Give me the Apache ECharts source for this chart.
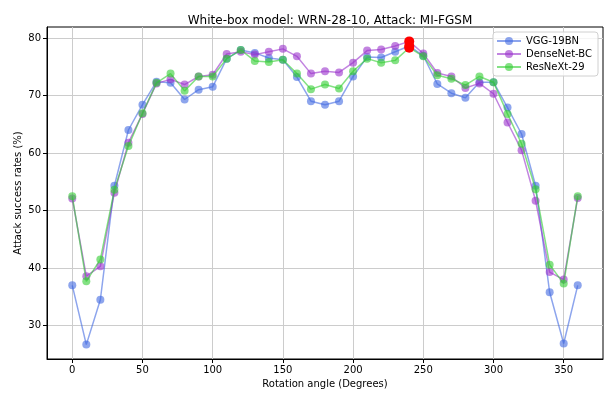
<!DOCTYPE html>
<html>
<head>
<meta charset="utf-8">
<script src="https://cdn.jsdelivr.net/npm/echarts@6/dist/echarts.min.js"></script>
<style>
  html, body { margin: 0; padding: 0; background: #fff; }
  #chart { width: 609px; height: 394px; }
</style>
</head>
<body>
<div id="chart"></div>
<script>
const angles = [0, 10, 20, 30, 40, 50, 60, 70, 80, 90, 100, 110, 120, 130, 140, 150, 160, 170, 180,
  190, 200, 210, 220, 230, 240, 250, 260, 270, 280, 290, 300, 310, 320, 330, 340, 350, 360]
const vgg = [37.0, 26.7, 34.5, 54.3, 64.0, 68.4, 72.4, 72.2, 69.3, 71.0, 71.5, 76.4, 77.9, 77.4, 76.5,
  76.2, 73.2, 69.0, 68.4, 69.0, 73.3, 76.7, 76.6, 77.6, 78.6, 76.9, 72.0, 70.4, 69.6, 72.3, 72.3,
  67.9, 63.3, 54.3, 35.8, 26.9, 37.0]
const densenet = [52.1, 38.6, 40.3, 53.1, 61.8, 66.8, 72.1, 72.8, 71.9, 73.3, 73.6, 77.2, 77.6, 77.1,
  77.6, 78.1, 76.8, 73.8, 74.2, 74.0, 75.7, 77.8, 78.0, 78.6, 79.4, 77.3, 73.9, 73.3, 71.3, 72.1,
  70.3, 65.3, 60.5, 51.7, 39.3, 38.0, 52.2]
const resnext = [52.5, 37.7, 41.5, 53.6, 61.2, 66.9, 72.2, 73.8, 70.8, 73.3, 73.3, 76.4, 77.9, 76.0,
  75.8, 76.2, 73.8, 71.1, 71.9, 71.2, 74.2, 76.4, 75.7, 76.1, 78.3, 76.8, 73.5, 72.9, 71.8, 73.3,
  72.3, 66.8, 61.6, 53.7, 40.6, 37.3, 52.5]
const names = ['VGG-19BN', 'DenseNet-BC', 'ResNeXt-29']
const colors = ['#4169e1', '#9932cc', '#32cd32']
const xTicks = [0, 50, 100, 150, 200, 250, 300, 350]
const yTicks = [30, 40, 50, 60, 70, 80]

const chart = echarts.init(document.getElementById('chart'))
const font = 'DejaVu Sans'
const allSeries = [vgg, densenet, resnext]

const lines = allSeries.map((vals, i) => ({
  name: names[i],
  type: 'line',
  data: angles.map((a, j) => [a, vals[j]]),
  symbol: 'circle',
  symbolSize: 8,
  itemStyle: { color: colors[i], opacity: 0.6 },
  lineStyle: { color: colors[i], width: 1.5, opacity: 0.6 },
  z: 2 + i
}))

// highlight the best angle of each model
const best = allSeries.map(vals => {
  const k = vals.indexOf(Math.max(...vals))
  return [angles[k], vals[k]]
})

const option = {
  animation: false,
  title: {
    text: 'White-box model: WRN-28-10, Attack: MI-FGSM',
    left: 325,
    textAlign: 'center',
    top: 10,
    textStyle: { fontFamily: font, fontSize: 12, fontWeight: 'normal', color: '#000' }
  },
  legend: {
    data: names,
    orient: 'vertical',
    right: 11,
    top: 32,
    padding: [4, 6, 4, 3],
    itemGap: 3,
    itemWidth: 24,
    itemHeight: 10,
    backgroundColor: 'rgba(255,255,255,0.8)',
    borderColor: '#d0d0d0',
    borderWidth: 1,
    borderRadius: 3,
    textStyle: { fontFamily: font, fontSize: 10, color: '#000' }
  },
  grid: {
    left: 47, right: 6, top: 27, bottom: 35,
    show: true, borderColor: '#000', borderWidth: 1
  },
  xAxis: {
    type: 'value',
    min: -18, max: 378,
    splitNumber: 8, minInterval: 50, maxInterval: 50,
    name: 'Rotation angle (Degrees)',
    nameLocation: 'middle',
    nameGap: 20,
    nameMoveOverlap: false,
    nameTextStyle: { fontFamily: font, fontSize: 10, color: '#000' },
    axisLine: { onZero: false, lineStyle: { color: '#000' } },
    axisTick: { show: true, length: 4, customValues: xTicks, lineStyle: { color: '#000' } },
    axisLabel: {
      fontFamily: font, fontSize: 10, color: '#000', margin: 6,
      customValues: xTicks
    },
    splitLine: { show: true, lineStyle: { color: '#cccccc', width: 1 } }
  },
  yAxis: {
    type: 'value',
    min: 24.2, max: 81.9,
    minInterval: 10, maxInterval: 10,
    name: 'Attack success rates (%)',
    nameLocation: 'middle',
    nameGap: 24,
    nameMoveOverlap: false,
    nameTextStyle: { fontFamily: font, fontSize: 10, color: '#000' },
    axisLine: { show: true, onZero: false, lineStyle: { color: '#000' } },
    axisTick: { show: true, length: 4, customValues: yTicks, lineStyle: { color: '#000' } },
    axisLabel: {
      fontFamily: font, fontSize: 10, color: '#000', margin: 6,
      customValues: yTicks
    },
    splitLine: { show: true, lineStyle: { color: '#cccccc', width: 1 } }
  },
  series: [
    ...lines,
    {
      name: 'best',
      type: 'scatter',
      data: best,
      symbol: 'circle',
      symbolSize: 10,
      itemStyle: { color: '#ff0000', opacity: 1 },
      z: 10
    }
  ]
}

chart.setOption(option)
window.addEventListener('resize', () => {
  chart.resize()
})
</script>
</body>
</html>
